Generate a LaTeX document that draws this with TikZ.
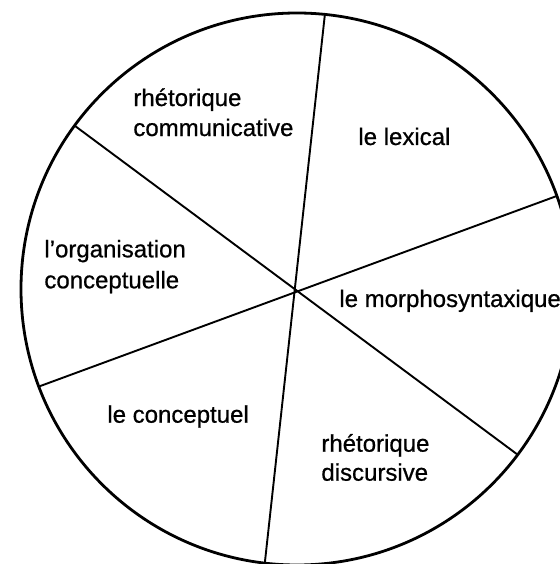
\documentclass[tikz,border=0pt]{standalone}
\usepackage{fontspec}
\setmainfont{Liberation Sans}
\newfontfamily\labfont[FakeBold=0.7]{Liberation Sans}
\usetikzlibrary{calc}
\begin{document}
\begin{tikzpicture}[x=0.5pt,y=0.5pt,
  rim/.style={line width=1.4pt},
  spoke/.style={line width=0.95pt},
  lab/.style={font=\labfont\fontsize{12}{15}\selectfont, inner sep=0pt, anchor=base west, align=left}]
\useasboundingbox (0,0) rectangle (560,564);
\clip (0,0) rectangle (560,564);
\coordinate (C) at (297,275);
\draw[rim] (C) circle[radius=138pt];
\coordinate (a1) at ($(C)+(84.2:138pt)$);
\coordinate (b1) at ($(C)+(263.3:138pt)$);
\coordinate (a2) at ($(C)+(143.7:138pt)$);
\coordinate (b2) at ($(C)+(-36.9:138pt)$);
\coordinate (a3) at ($(C)+(200.7:138pt)$);
\coordinate (b3) at ($(C)+(19.7:138pt)$);
\draw[spoke] (a1) -- (b1);
\draw[spoke] (a2) -- (b2);
\draw[spoke] (a3) -- (b3);
\node[lab] (rc) at (133,458) {rhétorique};
\node[lab] (rc2) at (133,428) {communicative};
\node[lab] (lx) at (358,419) {le lexical};
\node[lab] (oc) at (44,306.7) {l’organisation};
\node[lab] (oc2) at (44,275.7) {conceptuelle};
\node[lab] (ms) at (339,257) {le morphosyntaxique};
\node[lab] (co) at (107,141.3) {le conceptuel};
\node[lab] (rd) at (321,112.3) {rhétorique};
\node[lab] (rd2) at (321,83.3) {discursive};
\end{tikzpicture}
\end{document}
